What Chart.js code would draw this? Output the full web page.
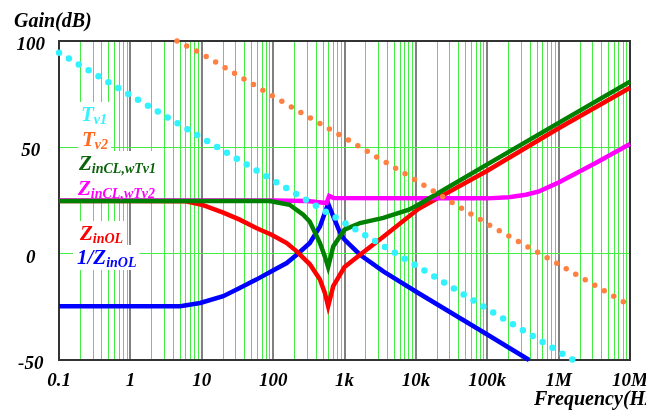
<!DOCTYPE html>
<html>
<head>
<meta charset="utf-8">
<script src="https://cdn.jsdelivr.net/npm/chart.js@4.4.1/dist/chart.umd.min.js"></script>
<style>
  html, body { margin: 0; padding: 0; background: #fff; }
</style>
</head>
<body>
<canvas id="myChart" width="646" height="416"></canvas>
<script>
// frequency (Hz) / gain (dB) pairs, one pair of arrays per trace
const tv1Freq = [0.1, 1, 10, 100, 1e3, 1e4, 1e5, 1e6, 1.6e6];
const tv1Gain = [94.5, 74.5, 54.5, 34.5, 14.5, -5.5, -26, -46, -50];

const tv2Freq = [4.5, 10, 100, 1e3, 1e4, 1e5, 1e6, 1e7];
const tv2Gain = [100, 94, 74, 54.5, 34.5, 14, -5, -24.5];

const zclTv1Freq = [0.1, 90, 170, 264, 327, 453, 530, 590, 695, 1e3, 1650, 3500, 8000, 10800, 1e5, 1e6, 1e7];
const zclTv1Gain = [24.8, 24.8, 23, 18.3, 15, 5, -1.3, -6.3, 3.4, 11.3, 14.4, 16.8, 20.7, 23, 42, 61.5, 80.9];

const zclTv2Freq = [0.1, 100, 300, 560, 610, 700, 1e4, 1e5, 2e5, 347e3, 533e3, 1e6, 3.3e6, 1e7];
const zclTv2Gain = [25, 25, 24.8, 23.8, 27.2, 26.2, 26, 26, 26.5, 27.7, 29.3, 33.5, 42.6, 51.6];

const zolFreq = [0.1, 1, 6, 10, 20, 34, 58, 95, 155, 214, 327, 453, 530, 590, 695, 1e3, 1650, 3500, 10800, 2e4, 1e5, 1e6, 1e7];
const zolGain = [24.8, 24.8, 24.6, 23, 19.3, 16, 12.1, 8.9, 5, 1.1, -5, -12.2, -18.4, -24.7, -15.3, -6.3, -0.5, 8, 21, 26, 39, 59, 78];

const invZolFreq = [0.1, 5, 9.5, 20, 34, 58, 95, 155, 214, 327, 453, 530, 590, 695, 870, 1e3, 1650, 3500, 10800, 1e5, 386e3];
const invZolGain = [-24.7, -24.7, -23.2, -20, -16.1, -12.2, -8.3, -4.4, -0.5, 5, 12.8, 19.1, 23.5, 17.5, 9.7, 6.6, -0.5, -8.3, -18.5, -38, -50];

// legend text: main letter + subscript
const seriesMain = ['T', 'T', 'Z', 'Z', 'Z', '1/Z'];
const seriesSub = ['v1', 'v2', 'inCL,wTv1', 'inCL,wTv2', 'inOL', 'inOL'];

// axis ticks
const xTickValues = [0.1, 1, 10, 100, 1e3, 1e4, 1e5, 1e6, 1e7];
const xTickLabels = ['0.1', '1', '10', '100', '1k', '10k', '100k', '1M', '10M'];
const yTickValues = [-50, 0, 50, 100];
const yTickLabels = ['-50', '0', '50', '100'];

const toPoints = (f, g) => f.map((v, i) => ({ x: v, y: g[i] }));

const serif = 'Liberation Serif, Times New Roman, serif';
const gridGreen = '#44ec44';

function isDecade(v) {
    const l = Math.log10(v);
    return Math.abs(l - Math.round(l)) < 1e-6;
}

// where the in-plot labels sit (baseline of the main letter)
const labelPos = [
    { x: 81, y: 121, color: '#33f2ff' },
    { x: 82, y: 146, color: '#ff6a20' },
    { x: 79, y: 170, color: '#0b640b' },
    { x: 78, y: 195, color: '#ff00ff' },
    { x: 80, y: 240, color: '#ff0000' },
    { x: 77, y: 264, color: '#0000ff' },
];

const decorations = {
    id: 'decorations',
    beforeDatasetsDraw(chart) {
        const { ctx, chartArea: a } = chart;
        ctx.save();
        // white boxes behind the labels hide the grid
        ctx.fillStyle = '#fff';
        for (let i = 0; i < labelPos.length; i++) {
            const p = labelPos[i];
            ctx.font = `italic bold 21px ${serif}`;
            const w1 = ctx.measureText(seriesMain[i]).width;
            ctx.font = `italic bold 14px ${serif}`;
            const w2 = ctx.measureText(seriesSub[i]).width;
            ctx.fillRect(p.x - 4, p.y - 19, w1 + w2 + 7, 25);
        }
        // frame
        ctx.strokeStyle = '#333';
        ctx.lineWidth = 2;
        ctx.strokeRect(a.left, a.top, a.right - a.left, a.bottom - a.top);
        ctx.restore();
    },
    afterDatasetsDraw(chart) {
        const { ctx } = chart;
        ctx.save();
        ctx.textBaseline = 'alphabetic';
        ctx.textAlign = 'left';
        for (let i = 0; i < labelPos.length; i++) {
            const p = labelPos[i];
            ctx.fillStyle = p.color;
            ctx.font = `italic bold 21px ${serif}`;
            ctx.fillText(seriesMain[i], p.x, p.y);
            const w1 = ctx.measureText(seriesMain[i]).width;
            ctx.font = `italic bold 14px ${serif}`;
            ctx.fillText(seriesSub[i], p.x + w1, p.y + 3);
        }
        // axis titles
        ctx.fillStyle = '#000';
        ctx.font = `italic bold 20px ${serif}`;
        ctx.fillText('Gain(dB)', 14, 27);
        ctx.fillText('Frequency(Hz)', 534, 405);
        ctx.restore();
    }
};

const solid = (label, data, color) => ({
    label: label,
    data: data,
    borderColor: color,
    borderWidth: 4.5,
    pointRadius: 0,
    tension: 0,
    clip: 3,
});

const dotted = (label, data, color, size, gap) => ({
    label: label,
    data: data,
    borderColor: color,
    borderWidth: size,
    borderDash: [0, gap],
    borderCapStyle: 'round',
    pointRadius: 0,
    tension: 0,
    clip: 3,
});

const chart = new Chart(document.getElementById('myChart'), {
    type: 'line',
    data: {
        datasets: [
            dotted('Tv1', toPoints(tv1Freq, tv1Gain), '#33f2ff', 6.5, 11.5),
            dotted('Tv2', toPoints(tv2Freq, tv2Gain), '#ff8040', 5.5, 11),
            solid('ZinCL,wTv1', toPoints(zclTv1Freq, zclTv1Gain), '#008000'),
            solid('ZinCL,wTv2', toPoints(zclTv2Freq, zclTv2Gain), '#ff00ff'),
            solid('ZinOL', toPoints(zolFreq, zolGain), '#ff0000'),
            solid('1/ZinOL', toPoints(invZolFreq, invZolGain), '#0000ff'),
        ]
    },
    options: {
        responsive: false,
        animation: false,
        devicePixelRatio: 1,
        layout: { padding: { top: 41, right: 16, left: 0, bottom: 0 } },
        plugins: {
            legend: { display: false },
            tooltip: { enabled: false },
        },
        scales: {
            x: {
                type: 'logarithmic',
                min: 0.1,
                max: 1e7,
                afterBuildTicks(scale) {
                    const t = [];
                    for (let e = -1; e < 7; e++) {
                        for (let m = 1; m < 10; m++) t.push({ value: m * Math.pow(10, e) });
                    }
                    t.push({ value: 1e7 });
                    scale.ticks = t;
                },
                afterFit(scale) {
                    scale.height = 56;
                    scale.paddingLeft = 0;
                    scale.paddingRight = 0;
                },
                grid: {
                    drawTicks: false,
                    color: c => (c.tick && isDecade(c.tick.value)) ? '#808080' : gridGreen,
                    lineWidth: c => (c.tick && isDecade(c.tick.value)) ? 2 : 1,
                },
                border: { display: true, color: '#333', width: 2 },
                ticks: {
                    autoSkip: false,
                    maxRotation: 0,
                    padding: 10,
                    color: '#000',
                    font: { family: serif, size: 19, style: 'italic', weight: 'bold' },
                    callback: function (value) {
                        const idx = xTickValues.findIndex(v => Math.abs(Math.log10(v) - Math.log10(value)) < 1e-6);
                        return idx >= 0 ? xTickLabels[idx] : '';
                    }
                }
            },
            y: {
                min: -50,
                max: 100,
                afterBuildTicks(scale) {
                    scale.ticks = yTickValues.map(v => ({ value: v }));
                },
                afterFit(scale) {
                    scale.width = 59;
                },
                grid: {
                    drawTicks: false,
                    color: c => (c.tick && (c.tick.value === 0 || c.tick.value === 50)) ? gridGreen : 'rgba(0,0,0,0)',
                    lineWidth: 1,
                },
                border: { display: true, color: '#333', width: 2 },
                ticks: {
                    crossAlign: 'center',
                    padding: 14,
                    labelOffset: 4,
                    color: '#000',
                    font: { family: serif, size: 19, style: 'italic', weight: 'bold' },
                    callback: function (value) {
                        const idx = yTickValues.indexOf(value);
                        return idx >= 0 ? yTickLabels[idx] : '';
                    }
                }
            }
        }
    },
    plugins: [decorations]
});
</script>
</body>
</html>
